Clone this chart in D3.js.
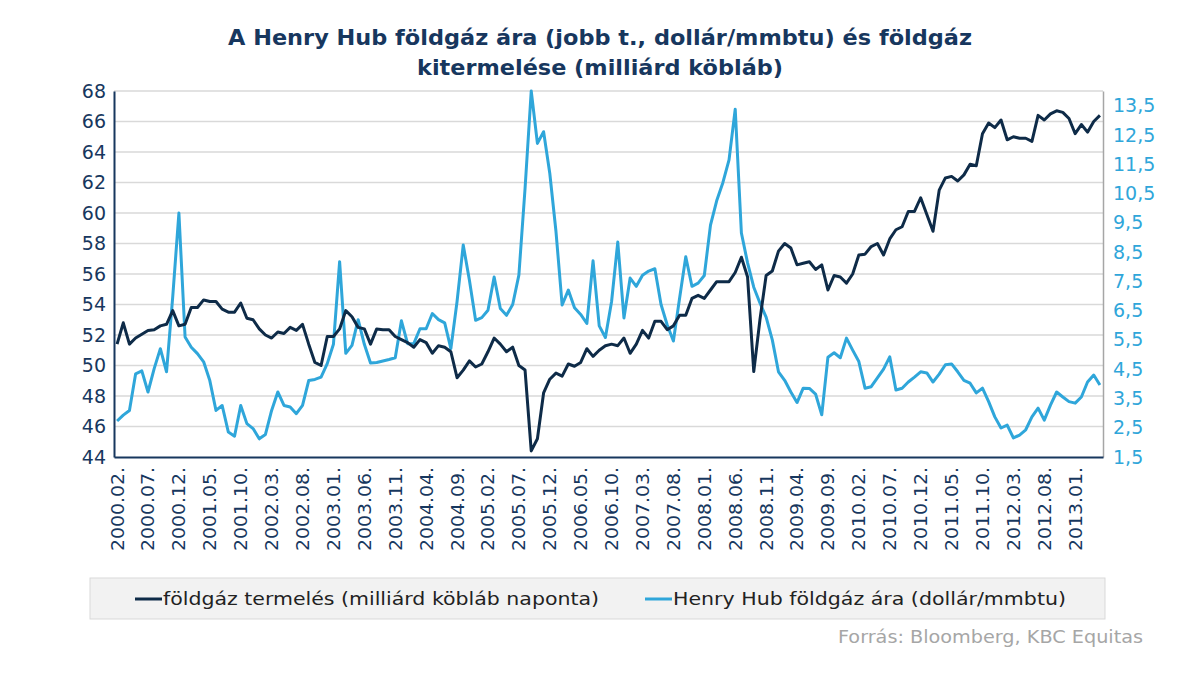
<!DOCTYPE html>
<html><head><meta charset="utf-8">
<script src="https://cdn.jsdelivr.net/npm/d3@7"></script>
<style>body{margin:0;background:#fff}svg{display:block}</style>
</head><body><svg id="c" width="1200" height="675"></svg>
<script>
// months 2000.02 .. 2013.05
const months = d3.timeMonth.range(new Date(2000,1,1), new Date(2013,5,1)).map(d3.timeFormat("%Y.%m."));
const tickLabels = ["2000.02.","2000.07.","2000.12.","2001.05.","2001.10.","2002.03.","2002.08.","2003.01.","2003.06.","2003.11.","2004.04.","2004.09.","2005.02.","2005.07.","2005.12.","2006.05.","2006.10.","2007.03.","2007.08.","2008.01.","2008.06.","2008.11.","2009.04.","2009.09.","2010.02.","2010.07.","2010.12.","2011.05.","2011.10.","2012.03.","2012.08.","2013.01."];
const production = [51.4,52.8,51.4,51.8,52.05,52.3,52.35,52.6,52.7,53.6,52.6,52.7,53.8,53.8,54.3,54.2,54.2,53.7,53.5,53.5,
54.1,53.1,53.0,52.4,52.0,51.8,52.2,52.1,52.5,52.3,52.7,51.4,50.2,50.0,51.9,51.9,52.4,53.6,53.2,52.5,
52.4,51.4,52.4,52.35,52.35,51.9,51.7,51.5,51.2,51.7,51.5,50.8,51.3,51.2,50.9,49.2,49.7,50.3,49.9,50.1,
50.9,51.8,51.4,50.9,51.2,50.0,49.7,44.4,45.2,48.2,49.1,49.5,49.3,50.1,49.95,50.2,51.1,50.6,51.0,51.3,
51.4,51.3,51.8,50.8,51.4,52.3,51.8,52.9,52.9,52.35,52.6,53.3,53.3,54.4,54.6,54.4,54.95,55.5,55.5,55.5,
56.1,57.1,55.8,49.6,53.0,55.9,56.2,57.5,58.0,57.7,56.6,56.7,56.8,56.3,56.6,54.95,55.9,55.8,55.4,56.0,
57.25,57.3,57.8,58.0,57.25,58.3,58.9,59.1,60.1,60.1,61.0,59.9,58.8,61.5,62.3,62.4,62.1,62.5,63.2,63.1,
65.2,65.9,65.6,66.1,64.8,65.0,64.9,64.9,64.7,66.4,66.1,66.5,66.7,66.6,66.2,65.2,65.8,65.3,66.0,66.4];
const price = [2.73,2.93,3.09,4.34,4.44,3.72,4.52,5.20,4.41,6.97,9.83,5.60,5.25,5.03,4.75,4.11,3.09,3.26,2.35,2.21,
3.26,2.64,2.47,2.12,2.27,3.09,3.72,3.26,3.21,2.98,3.26,4.11,4.15,4.23,4.69,5.35,8.17,5.04,5.31,6.19,
5.35,4.71,4.73,4.78,4.83,4.89,6.15,5.37,5.37,5.88,5.88,6.40,6.19,6.08,5.20,6.81,8.74,7.54,6.17,6.26,
6.51,7.65,6.57,6.34,6.71,7.71,10.67,14.0,12.21,12.61,11.19,9.21,6.69,7.20,6.60,6.37,6.06,8.20,5.98,5.58,
6.81,8.84,6.25,7.61,7.33,7.71,7.85,7.93,6.71,6.01,5.46,6.92,8.34,7.33,7.44,7.70,9.42,10.25,10.87,11.65,
13.38,9.15,8.13,7.30,6.76,6.28,5.50,4.41,4.12,3.72,3.36,3.85,3.84,3.65,2.94,4.91,5.06,4.89,5.56,5.15,
4.76,3.85,3.90,4.20,4.50,4.92,3.79,3.85,4.06,4.23,4.41,4.37,4.06,4.33,4.65,4.68,4.41,4.12,4.02,3.69,
3.85,3.39,2.87,2.49,2.59,2.15,2.25,2.43,2.87,3.17,2.76,3.27,3.72,3.55,3.39,3.34,3.55,4.06,4.30,3.96];
const leftTicks = [44,46,48,50,52,54,56,58,60,62,64,66,68];
const rightTicks = [1.5,2.5,3.5,4.5,5.5,6.5,7.5,8.5,9.5,10.5,11.5,12.5,13.5];
const seriesNames = ["földgáz termelés (milliárd köbláb naponta)","Henry Hub földgáz ára (dollár/mmbtu)"];
const titleLines = ["A Henry Hub földgáz ára (jobb t.,  dollár/mmbtu) és földgáz","kitermelése  (milliárd köbláb)"];
const source = "Forrás: Bloomberg, KBC Equitas";

const DARK="#0e2b48", LIGHT="#2fa6da", NAVY="#17375e";
const FONT="'DejaVu Sans', sans-serif";
const svg=d3.select("#c");
const L=114,R=1103,T=91,B=457;
const x=d3.scalePoint().domain(months).range([L,R]).padding(0.5);
const yL=d3.scaleLinear().domain([44,68]).range([B,T]);
const yR=d3.scaleLinear().domain([1.5,14]).range([B,T]);

// title
const tLen=[744,366];
svg.append("g").selectAll("text").data(titleLines).join("text")
 .attr("x",600).attr("y",(d,i)=>45+i*30).attr("text-anchor","middle")
 .attr("textLength",(d,i)=>tLen[i]).attr("lengthAdjust","spacingAndGlyphs")
 .attr("font-family",FONT).attr("font-size",21).attr("font-weight","bold").attr("fill",NAVY).text(d=>d);

// gridlines
svg.append("g").selectAll("line").data(leftTicks.slice(1)).join("line")
 .attr("x1",L).attr("x2",R).attr("y1",d=>yL(d)).attr("y2",d=>yL(d))
 .attr("stroke","#d9d9d9").attr("stroke-width",1.5);

// left axis
const gl=svg.append("g").attr("transform",`translate(${L},0)`)
 .call(d3.axisLeft(yL).tickValues(leftTicks).tickSize(0).tickPadding(8));
gl.select(".domain").attr("stroke",NAVY).attr("stroke-width",2);
gl.selectAll("text").attr("font-family",FONT).attr("font-size",19).attr("fill",NAVY);

// right axis
const gr=svg.append("g").attr("transform",`translate(${R},0)`)
 .call(d3.axisRight(yR).tickValues(rightTicks).tickSize(0).tickPadding(10).tickFormat(d=>String(d).replace(".",",")));
gr.select(".domain").attr("stroke","#a6a6a6").attr("stroke-width",1.5);
gr.selectAll("text").attr("font-family",FONT).attr("font-size",19).attr("fill",LIGHT);

// bottom axis
const gb=svg.append("g").attr("transform",`translate(0,${B})`)
 .call(d3.axisBottom(x).tickValues(tickLabels).tickSize(0).tickPadding(0));
gb.select(".domain").attr("stroke",NAVY).attr("stroke-width",2);
gb.selectAll("text").attr("font-family",FONT).attr("font-size",17).attr("fill",NAVY)
 .attr("text-anchor","end").attr("dy","0.35em")
 .attr("textLength",84).attr("lengthAdjust","spacingAndGlyphs")
 .attr("transform","translate(0,10) rotate(-90)").attr("x",0).attr("y",0);

// lines
const lineL=d3.line().x((d,i)=>x(months[i])).y(d=>yL(d));
const lineR=d3.line().x((d,i)=>x(months[i])).y(d=>yR(d));
svg.append("path").datum(price).attr("d",lineR).attr("fill","none").attr("stroke",LIGHT).attr("stroke-width",3).attr("stroke-linejoin","round");
svg.append("path").datum(production).attr("d",lineL).attr("fill","none").attr("stroke",DARK).attr("stroke-width",3).attr("stroke-linejoin","round");

// legend
const lg=svg.append("g");
lg.append("rect").attr("x",90).attr("y",578).attr("width",1015).attr("height",41).attr("fill","#f2f2f2").attr("stroke","#d9d9d9");
const items=[{x:135,c:DARK,t:seriesNames[0],w:436},{x:645,c:LIGHT,t:seriesNames[1],w:393}];
items.forEach(it=>{
 lg.append("line").attr("x1",it.x).attr("x2",it.x+27).attr("y1",599).attr("y2",599).attr("stroke",it.c).attr("stroke-width",3);
 lg.append("text").attr("x",it.x+28).attr("y",599).attr("dy","0.35em").attr("font-family",FONT).attr("font-size",18)
  .attr("textLength",it.w).attr("lengthAdjust","spacingAndGlyphs").attr("fill","#222").text(it.t);
});
svg.append("text").attr("x",1143).attr("y",637).attr("dy","0.35em").attr("text-anchor","end")
 .attr("textLength",305).attr("lengthAdjust","spacingAndGlyphs")
 .attr("font-family",FONT).attr("font-size",18).attr("fill","#a6a6a6").text(source);
</script></body></html>
